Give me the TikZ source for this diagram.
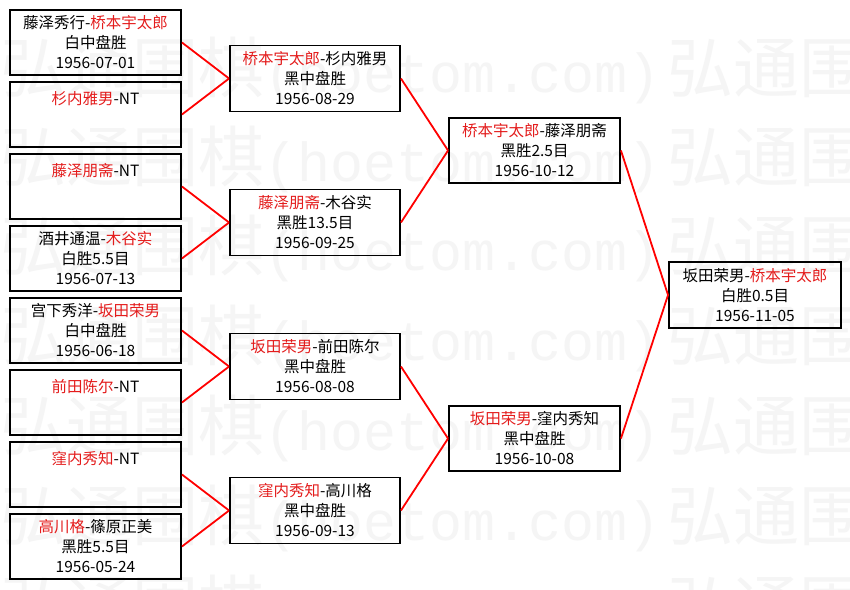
\documentclass[tikz,border=0pt]{standalone}
\usepackage{fontspec}
\setmainfont{Noto Sans CJK SC}
\newfontfamily\cjk{Noto Sans CJK SC}
\newfontfamily\wmlat{Liberation Mono}
\definecolor{wred}{RGB}{228,28,28}
\definecolor{wmgray}{RGB}{245,245,245}
\newcommand{\rd}[1]{{\color{wred}#1}}
\newcommand{\wmstr}{{\fontsize{66}{66}\selectfont\cjk 弘通围棋}{\fontsize{55}{55}\selectfont\wmlat (hoetom.com)}}
\begin{document}
\begin{tikzpicture}[x=1pt,y=-1pt,
  game/.style={draw=black, line width=1.9pt, minimum width=171pt, minimum height=65pt,
    inner sep=0pt, align=center, font=\fontsize{15.5}{20}\selectfont, text=black},
  game2/.style={game, minimum width=170pt, minimum height=66pt},
  link/.style={draw=red, line width=1.8pt},
  wmtext/.style={text=wmgray, anchor=base west, inner sep=0pt}]
\useasboundingbox (0,0) rectangle (850,589);
\fill[white] (0,0) rectangle (850,589);
% watermark
\foreach \yy [count=\i] in {67,156,245,335,425,515,605} {
  \node[wmtext] (wma\i) at (0,\yy+25) {\wmstr};
  \node[wmtext] (wmb\i) at (667,\yy+25) {\wmstr};
}
% first round
\node[game] (b1) at (95.5,42.5) {藤泽秀行-\rd{桥本宇太郎}\\白中盘胜\\1956-07-01};
\node[game] (b2) at (95.5,114.5) {\rd{杉内雅男}-NT\\[-6pt]~\\~};
\node[game] (b3) at (95.5,186.5) {\rd{藤泽朋斋}-NT\\[-6pt]~\\~};
\node[game] (b4) at (95.5,258.5) {酒井通温-\rd{木谷实}\\白胜5.5目\\1956-07-13};
\node[game] (b5) at (95.5,330.5) {宫下秀洋-\rd{坂田荣男}\\白中盘胜\\1956-06-18};
\node[game] (b6) at (95.5,402.5) {\rd{前田陈尔}-NT\\[-6pt]~\\~};
\node[game] (b7) at (95.5,474.5) {\rd{窪内秀知}-NT\\[-6pt]~\\~};
\node[game] (b8) at (95.5,546.5) {\rd{高川格}-篠原正美\\黑胜5.5目\\1956-05-24};
% second round
\node[game2] (c1) at (315,78.5) {\rd{桥本宇太郎}-杉内雅男\\黑中盘胜\\1956-08-29};
\node[game2] (c2) at (315,222.5) {\rd{藤泽朋斋}-木谷实\\黑胜13.5目\\1956-09-25};
\node[game2] (c3) at (315,366.5) {\rd{坂田荣男}-前田陈尔\\黑中盘胜\\1956-08-08};
\node[game2] (c4) at (315,510.5) {\rd{窪内秀知}-高川格\\黑中盘胜\\1956-09-13};
% semifinals
\node[game] (d1) at (534.5,150.5) {\rd{桥本宇太郎}-藤泽朋斋\\黑胜2.5目\\1956-10-12};
\node[game] (d2) at (534.5,438.5) {\rd{坂田荣男}-窪内秀知\\黑中盘胜\\1956-10-08};
% final
\node[game2, minimum width=172pt] (e) at (755,295) {坂田荣男-\rd{桥本宇太郎}\\白胜0.5目\\1956-11-05};
% connectors
\draw[link] (b1.east) -- (c1.west);
\draw[link] (b2.east) -- (c1.west);
\draw[link] (b3.east) -- (c2.west);
\draw[link] (b4.east) -- (c2.west);
\draw[link] (b5.east) -- (c3.west);
\draw[link] (b6.east) -- (c3.west);
\draw[link] (b7.east) -- (c4.west);
\draw[link] (b8.east) -- (c4.west);
\draw[link] (c1.east) -- (d1.west);
\draw[link] (c2.east) -- (d1.west);
\draw[link] (c3.east) -- (d2.west);
\draw[link] (c4.east) -- (d2.west);
\draw[link] (d1.east) -- (e.west);
\draw[link] (d2.east) -- (e.west);
\end{tikzpicture}
\end{document}
